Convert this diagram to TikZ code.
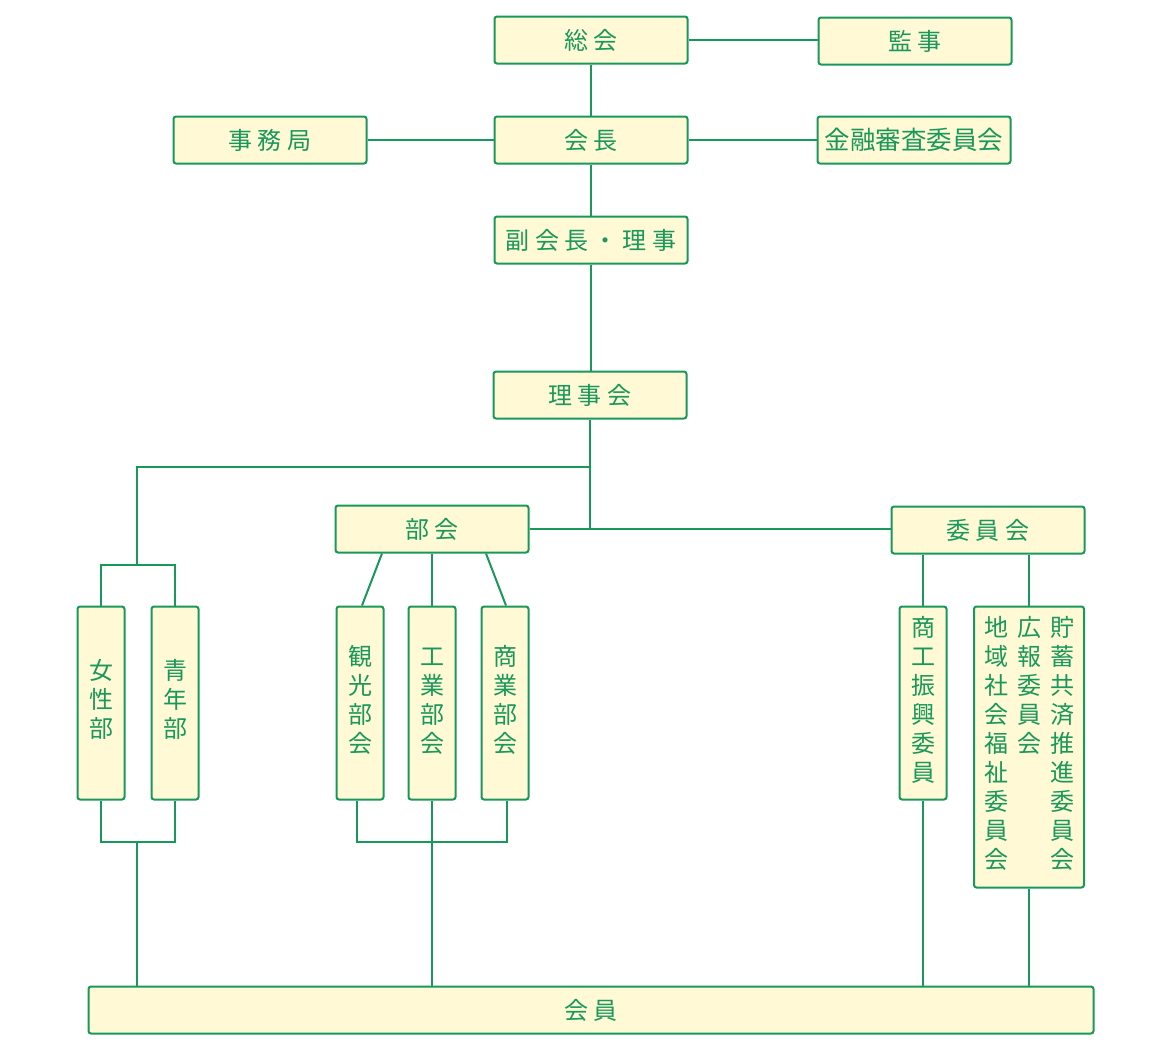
\documentclass[tikz,border=0pt]{standalone}
\usepackage{fontspec}
\newfontfamily\jp{Noto Sans CJK JP}
\newfontfamily\jpwide[LetterSpace=22]{Noto Sans CJK JP}
\definecolor{orgGreen}{HTML}{18985A}
\definecolor{orgFill}{HTML}{FFF9D6}

\tikzset{
  orgbox/.style={draw=orgGreen, fill=orgFill, line width=2pt, rounded corners=2.5pt,
    text=orgGreen, minimum width=193pt, minimum height=47pt, inner sep=0pt,
    font=\jpwide\fontsize{24}{29}\selectfont},
  tatebox/.style={orgbox, minimum width=47pt, minimum height=193pt,
    font=\jp\fontsize{24}{29}\selectfont},
  link/.style={draw=orgGreen, line width=2pt}
}
\newcommand{\tate}[1]{\begin{tabular}[t]{@{}c@{}}#1\end{tabular}}

\begin{document}
\begin{tikzpicture}[x=1pt, y=-1pt]
  \useasboundingbox (0,0) rectangle (1170,1050);

  % Upper chain
  \node[orgbox] (souka) at (591,40) {総会};
  \node[orgbox] (kanji) at (915,41) {監事};
  \node[orgbox] (jimukyoku) at (270,140) {事務局};
  \node[orgbox] (kaichou) at (591,140) {会長};
  \node[orgbox, font=\jp\fontsize{25.5}{29}\selectfont] (kinyuu) at (914,140) {金融審査委員会};
  \node[orgbox] (fukukaichou) at (591,240) {副会長・理事};
  \node[orgbox] (rijikai) at (590,395) {理事会};
  \node[orgbox] (bukai) at (432,529) {部会};
  \node[orgbox] (iinkai) at (988,530) {委員会};

  % Vertical boxes
  \foreach \name/\x/\txt in {josei/101/{女\\性\\部}, seinen/175/{青\\年\\部},
      kankou/360/{観\\光\\部\\会}, kougyou/432/{工\\業\\部\\会},
      shougyou/505/{商\\業\\部\\会}, shoukou/923/{商\\工\\振\\興\\委\\員}}
    \node[tatebox] (\name) at (\x,703) {\tate{\txt}};

  \node[tatebox, minimum width=110pt, minimum height=281pt] (iinbox) at (1029,747)
    {\tate{地\\域\\社\\会\\福\\祉\\委\\員\\会}\hspace{9pt}\tate{広\\報\\委\\員\\会}\hspace{9pt}\tate{貯\\蓄\\共\\済\\推\\進\\委\\員\\会}};

  % Members
  \node[orgbox, minimum width=1005pt] (kaiin) at (591,1010) {会員};

  % Connectors, upper part
  \draw[link] (souka.east) -- (souka.east -| kanji.west);
  \draw[link] (souka.south) -- (souka.south |- kaichou.north);
  \draw[link] (jimukyoku.east) -- (jimukyoku.east -| kaichou.west);
  \draw[link] (kaichou.east) -- (kaichou.east -| kinyuu.west);
  \draw[link] (kaichou.south) -- (kaichou.south |- fukukaichou.north);
  \draw[link] (fukukaichou.south) -- (fukukaichou.south |- rijikai.north);
  \draw[link] (rijikai.south) -- (rijikai.south |- bukai.east);
  \draw[link] (bukai.east) -- (bukai.east -| iinkai.west);

  % Left branch
  \coordinate (split) at (590,467);
  \coordinate (joint) at (137,565);
  \coordinate (jointb) at (137,842);
  \draw[link] (split) -| (joint);
  \draw[link] (josei.north) |- (joint) -| (seinen.north);
  \draw[link] (josei.south) |- (jointb) -| (seinen.south);
  \draw[link] (jointb) -- (jointb |- kaiin.north);

  % Bukai branch
  \coordinate (jointc) at (432,842);
  \draw[link] ([xshift=-50pt]bukai.south) -- ([xshift=2pt]kankou.north);
  \draw[link] (bukai.south) -- (kougyou.north);
  \draw[link] ([xshift=54pt]bukai.south) -- ([xshift=1pt]shougyou.north);
  \draw[link] ([xshift=-3pt]kankou.south) |- (jointc) -| ([xshift=2pt]shougyou.south);
  \draw[link] (kougyou.south) -- (kougyou.south |- kaiin.north);

  % Iinkai branch
  \draw[link] (iinkai.south -| shoukou.north) -- (shoukou.north);
  \draw[link] (shoukou.south) -- (shoukou.south |- kaiin.north);
  \draw[link] (iinkai.south -| iinbox.north) -- (iinbox.north);
  \draw[link] (iinbox.south) -- (iinbox.south |- kaiin.north);

\end{tikzpicture}
\end{document}
